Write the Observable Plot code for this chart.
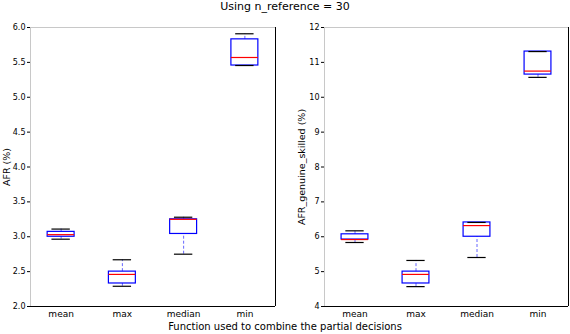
<!DOCTYPE html>
<html><head><meta charset="utf-8">
<script src="https://cdn.jsdelivr.net/npm/d3@7"></script>
<script src="https://cdn.jsdelivr.net/npm/@observablehq/plot@0.6"></script>
<style>
body{margin:0;background:#fff;font-family:"DejaVu Sans",sans-serif;}
#wrap{position:relative;width:570px;height:334px;overflow:hidden;}
.abs{position:absolute;}
#title{left:0;width:570px;top:0px;text-align:center;font-size:11px;line-height:13px;color:#000;}
#xlab{left:0;width:570px;top:320px;text-align:center;font-size:10px;line-height:13px;color:#000;}
</style></head><body>
<div id="wrap">
<div id="left" class="abs" style="left:0;top:0"></div>
<div id="right" class="abs" style="left:280px;top:0"></div>
<div id="title" class="abs">Using n_reference = 30</div>
<div id="xlab" class="abs">Function used to combine the partial decisions</div>
</div>
<script>
const categories = ["mean", "max", "median", "min"];
// Left panel: AFR (%)
const afrLo  = [2.965, 2.29, 2.75, 5.455];
const afrQ1  = [3.00, 2.33, 3.04, 5.455];
const afrMed = [3.03, 2.46, 3.25, 5.57];
const afrQ3  = [3.07, 2.50, 3.25, 5.83];
const afrHi  = [3.11, 2.67, 3.28, 5.91];
const afrTicks = [2.0, 2.5, 3.0, 3.5, 4.0, 4.5, 5.0, 5.5, 6.0];
// Right panel: AFR_genuine_skilled (%)
const gsLo  = [5.835, 4.57, 5.405, 10.57];
const gsQ1  = [5.92, 4.66, 6.00, 10.65];
const gsMed = [5.92, 4.92, 6.32, 10.75];
const gsQ3  = [6.07, 5.00, 6.41, 11.31];
const gsHi  = [6.17, 5.32, 6.41, 11.31];
const gsTicks = [4, 5, 6, 7, 8, 9, 10, 11, 12];

function panel(lo, q1, med, q3, hi, ticks, fmt, label, opts) {
  const rows = categories.map((c, i) => ({pos: i + 1, lo: lo[i], q1: q1[i], med: med[i], q3: q3[i], hi: hi[i]}));
  const bw = 0.22, cw = 0.15;
  const ymin = ticks[0], ymax = ticks[ticks.length - 1];
  const svg = Plot.plot({
    width: opts.width, height: 334,
    marginTop: 27, marginBottom: 28, marginLeft: opts.ml, marginRight: opts.mr,
    style: {fontFamily: "DejaVu Sans, sans-serif", fontSize: "8px", color: "#000", background: "#fff"},
    x: {type: "linear", domain: [0.5, 4.5], ticks: [1, 2, 3, 4], tickFormat: d => categories[d - 1], tickSize: 0, label: null, tickPadding: 4},
    y: {domain: [ymin, ymax], ticks: ticks, tickFormat: fmt, tickSize: 3, label: label, labelAnchor: "center", labelArrow: "none", labelOffset: opts.lo, tickPadding: 2},
    marks: [
      Plot.ruleX([0.5], {stroke: "#c8c8c8"}),
      Plot.ruleY([ymax], {stroke: "#c8c8c8"}),
      Plot.ruleX([4.5], {stroke: "#000"}),
      Plot.ruleY([ymin], {stroke: "#000"}),
      Plot.ruleX(rows, {x: "pos", y1: "q3", y2: "hi", stroke: "#0000ff", strokeDasharray: "3,2", strokeOpacity: 0.6}),
      Plot.ruleX(rows, {x: "pos", y1: "lo", y2: "q1", stroke: "#0000ff", strokeDasharray: "3,2", strokeOpacity: 0.6}),
      Plot.rect(rows, {x1: d => d.pos - bw, x2: d => d.pos + bw, y1: "q1", y2: "q3", fill: "none", stroke: "#0000ff", strokeWidth: 1.2}),
      Plot.ruleY(rows, {y: "hi", x1: d => d.pos - cw, x2: d => d.pos + cw, stroke: "#000", strokeWidth: 1.2}),
      Plot.ruleY(rows, {y: "lo", x1: d => d.pos - cw, x2: d => d.pos + cw, stroke: "#000", strokeWidth: 1.2}),
      Plot.ruleY(rows, {y: "med", x1: d => d.pos - bw, x2: d => d.pos + bw, stroke: "#ff0000", strokeWidth: 1.2})
    ]
  });
  d3.select(svg).selectAll('[aria-label="y-axis label"] text').style("font-size", "9.5px");
  d3.select(svg).selectAll('[aria-label="x-axis tick label"] text').style("font-size", "9px");
  return svg;
}
document.getElementById("left").append(panel(afrLo, afrQ1, afrMed, afrQ3, afrHi, afrTicks, d3.format(".1f"), "AFR (%)", {width: 285, ml: 30, mr: 10, lo: 27}));
document.getElementById("right").append(panel(gsLo, gsQ1, gsMed, gsQ3, gsHi, gsTicks, d3.format("d"), "AFR_genuine_skilled (%)", {width: 290, ml: 44, mr: 2, lo: 26}));
</script>
</body></html>
